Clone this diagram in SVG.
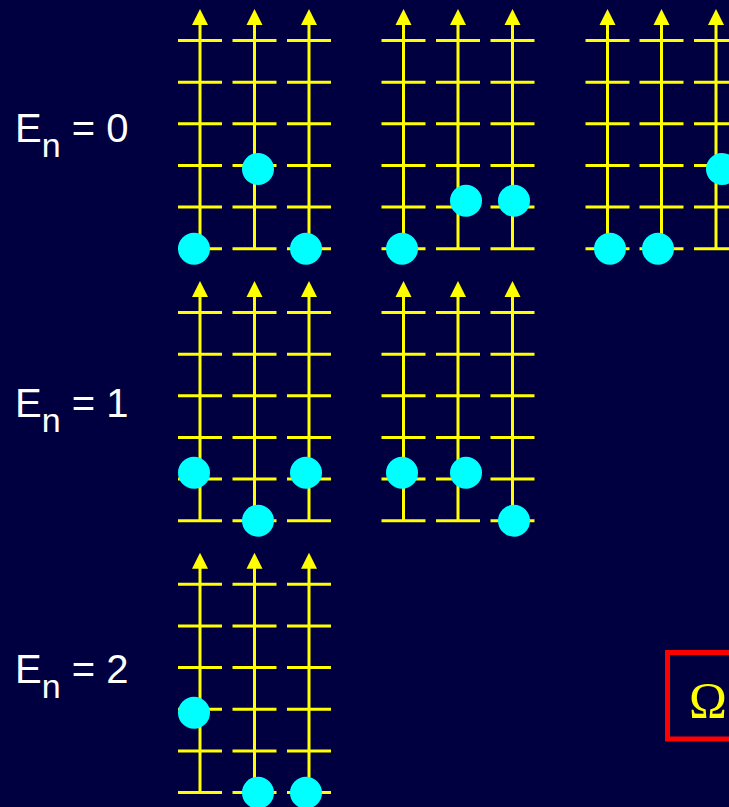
<svg xmlns="http://www.w3.org/2000/svg" width="729" height="807" viewBox="0 0 729 807">
  <style>
    .rail { stroke: #ffff00; stroke-width: 3; fill: none; }
    .tip { fill: #ffff00; }
    .ball { fill: #00ffff; }
    .lbl { font-family: "Liberation Sans", Arial, sans-serif; font-size: 40px; fill: #ffffff; }
    .sub { font-size: 34px; }
  </style>
  <defs>
    <g id="ladder">
      <path class="rail" d="M0,24 V248.75 M-22,40.5 H22 M-22,82.15 H22 M-22,123.8 H22 M-22,165.45 H22 M-22,207.1 H22 M-22,248.75 H22"/>
      <polygon class="tip" points="0,9 -8,25 8,25"/>
    </g>
  </defs>
  <rect x="0" y="0" width="729" height="807" fill="#000040"/>

  <g id="labels">
    <text class="lbl" x="15" y="142">E<tspan class="sub" dy="15">n</tspan><tspan dy="-15"> = 0</tspan></text>
    <text class="lbl" x="15" y="417">E<tspan class="sub" dy="15">n</tspan><tspan dy="-15"> = 1</tspan></text>
    <text class="lbl" x="15" y="683">E<tspan class="sub" dy="15">n</tspan><tspan dy="-15"> = 2</tspan></text>
  </g>

  <g id="e0-config1">
    <use href="#ladder" x="200" y="0"/>
    <use href="#ladder" x="254.5" y="0"/>
    <use href="#ladder" x="309" y="0"/>
    <circle class="ball" cx="194" cy="248.7" r="16"/>
    <circle class="ball" cx="258" cy="169" r="16"/>
    <circle class="ball" cx="306" cy="248.7" r="16"/>
  </g>
  <g id="e0-config2">
    <use href="#ladder" x="403.5" y="0"/>
    <use href="#ladder" x="458" y="0"/>
    <use href="#ladder" x="512.5" y="0"/>
    <circle class="ball" cx="402" cy="248.7" r="16"/>
    <circle class="ball" cx="466" cy="200.7" r="16"/>
    <circle class="ball" cx="514" cy="200.7" r="16"/>
  </g>
  <g id="e0-config3">
    <use href="#ladder" x="607.5" y="0"/>
    <use href="#ladder" x="661.5" y="0"/>
    <use href="#ladder" x="716" y="0"/>
    <circle class="ball" cx="610" cy="248.7" r="16"/>
    <circle class="ball" cx="658" cy="248.7" r="16"/>
    <circle class="ball" cx="722" cy="169" r="16"/>
  </g>

  <g id="e1-config1">
    <use href="#ladder" x="200" y="272"/>
    <use href="#ladder" x="254.5" y="272"/>
    <use href="#ladder" x="309" y="272"/>
    <circle class="ball" cx="194" cy="472.7" r="16"/>
    <circle class="ball" cx="258" cy="520.7" r="16"/>
    <circle class="ball" cx="306" cy="472.7" r="16"/>
  </g>
  <g id="e1-config2">
    <use href="#ladder" x="403.5" y="272"/>
    <use href="#ladder" x="458" y="272"/>
    <use href="#ladder" x="512.5" y="272"/>
    <circle class="ball" cx="402" cy="472.7" r="16"/>
    <circle class="ball" cx="466" cy="472.7" r="16"/>
    <circle class="ball" cx="514" cy="520.7" r="16"/>
  </g>

  <g id="e2-config1">
    <use href="#ladder" x="200" y="543.8"/>
    <use href="#ladder" x="254.5" y="543.8"/>
    <use href="#ladder" x="309" y="543.8"/>
    <circle class="ball" cx="194" cy="712.7" r="16"/>
    <circle class="ball" cx="258" cy="792.7" r="16"/>
    <circle class="ball" cx="306" cy="792.7" r="16"/>
  </g>

  <g id="omega-box">
    <rect x="667.5" y="652.5" width="200" height="86.5" fill="none" stroke="#ff0000" stroke-width="5"/>
    <text x="689" y="717" font-family="'Liberation Serif', 'Times New Roman', serif" font-size="51" fill="#ffff00">Ω</text>
  </g>
</svg>
